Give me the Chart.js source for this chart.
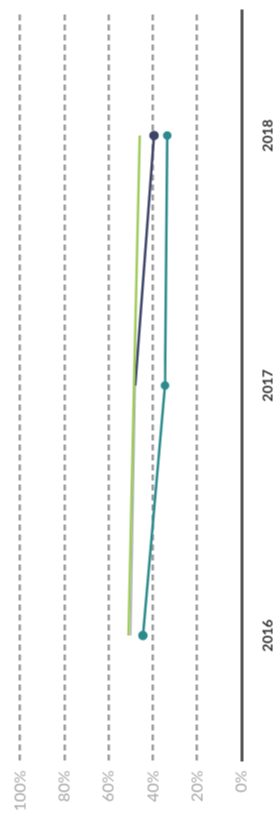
<!DOCTYPE html>
<html>
<head>
<meta charset="utf-8">
<script src="https://cdn.jsdelivr.net/npm/chart.js@4"></script>
<style>
  body { margin: 0; background: #fff; overflow: hidden; }
  #wrap {
    position: absolute;
    width: 831px; height: 278px;
    left: -276.5px; top: 276.5px;
    transform: rotate(-90deg);
  }
</style>
</head>
<body>
<div id="wrap"><canvas id="chart" width="831" height="278"></canvas></div>
<script>
const years = ['2016', '2017', '2018'];
const greenSeries = [51, 48.5, 46];
const navySeries = [50, 48, 39.5];
const tealSeries = [44.5, 34.5, 33.5];
const yTicks = [0, 20, 40, 60, 80, 100];

new Chart(document.getElementById('chart'), {
  type: 'line',
  data: {
    labels: years,
    datasets: [
      { data: greenSeries, borderColor: '#a0cb5c', backgroundColor: '#a0cb5c', borderWidth: 2.5, pointRadius: 0 },
      {
        data: navySeries, borderColor: '#3c4468', backgroundColor: '#3c4468', borderWidth: 2.5,
        pointRadius: [0, 0, 3.5],
        segment: { borderColor: (c) => c.p0DataIndex === 0 ? '#a9adb8' : undefined, borderWidth: (c) => c.p0DataIndex === 0 ? 1.5 : undefined }
      },
      { data: tealSeries, borderColor: '#2b8a8c', backgroundColor: '#2b8a8c', borderWidth: 2.5, pointRadius: [3.5, 3, 3] }
    ]
  },
  options: {
    responsive: false,
    animation: false,
    layout: { padding: { top: 10, right: 10, left: 0, bottom: 0 } },
    plugins: { legend: { display: false }, tooltip: { enabled: false } },
    scales: {
      x: {
        offset: true,
        grid: { display: false },
        border: { display: true, color: '#555', width: 3 },
        ticks: { color: '#333', padding: 10, font: { family: 'Lato', size: 14, weight: 'bold' } },
        afterFit: (s) => { s.height = 37; }
      },
      y: {
        min: 0, max: 100,
        afterBuildTicks: (s) => { s.ticks = yTicks.map((v) => ({ value: v })); },
        grid: {
          drawTicks: false,
          color: (c) => c.tick && c.tick.value === 0 ? 'rgba(0,0,0,0)' : '#9c9c9c',
          lineWidth: 2.5
        },
        border: { display: false, dash: [6, 4] },
        ticks: {
          color: '#a6a6a6', padding: 10,
          font: { family: 'Lato', size: 16 },
          callback: (v) => v + '%'
        },
        afterFit: (s) => { s.width = 71; }
      }
    }
  }
});
</script>
</body>
</html>
